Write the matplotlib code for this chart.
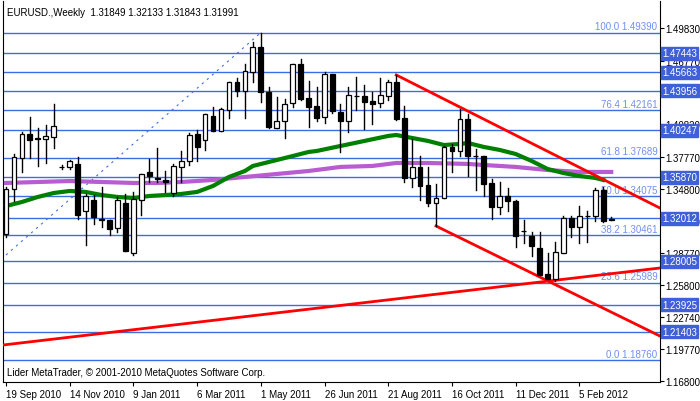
import matplotlib
matplotlib.use("Agg")
import matplotlib.pyplot as plt
from matplotlib.patches import Rectangle

# weekly EURUSD candles (open, high, low, close)
opens = [1.3054, 1.3476, 1.3766, 1.3990, 1.3953, 1.3944, 1.3962, 1.3682, 1.3682, 1.3710,
         1.3270, 1.3373, 1.3195, 1.3185, 1.3111, 1.3345, 1.2877, 1.3373, 1.3635, 1.3579,
         1.3560, 1.3438, 1.3682, 1.3738, 1.3990, 1.3934, 1.4159, 1.4018, 1.4215, 1.4477,
         1.4393, 1.4571, 1.4805, 1.4384, 1.4047, 1.4112, 1.4281, 1.4646, 1.4327, 1.4252,
         1.4150, 1.4552, 1.4196, 1.4112, 1.4346, 1.4346, 1.4299, 1.4281, 1.4346, 1.4477,
         1.4140, 1.3579, 1.3682, 1.3513, 1.3345, 1.3391, 1.3869, 1.3831, 1.4131, 1.3784,
         1.3784, 1.3532, 1.3307, 1.3410, 1.3363, 1.3082, 1.3036, 1.2923, 1.2680, 1.2633,
         1.2877, 1.3204, 1.3120, 1.3223, 1.3223, 1.3466, 1.31849]
highs = [1.3494, 1.3803, 1.4009, 1.4150, 1.4047, 1.4075, 1.4271, 1.3700, 1.3747, 1.3775,
         1.3429, 1.3419, 1.3494, 1.3185, 1.3401, 1.3429, 1.3448, 1.3616, 1.3756, 1.3859,
         1.3644, 1.3710, 1.3831, 1.4000, 1.4028, 1.4178, 1.4243, 1.4234, 1.4477, 1.4515,
         1.4646, 1.4852, 1.4939, 1.4430, 1.4337, 1.4318, 1.4646, 1.4692, 1.4486, 1.4430,
         1.4571, 1.4552, 1.4271, 1.4430, 1.4524, 1.4449, 1.4384, 1.4515, 1.4496, 1.4543,
         1.4252, 1.3944, 1.3784, 1.3682, 1.3522, 1.3878, 1.3897, 1.4224, 1.4178, 1.3850,
         1.3784, 1.3569, 1.3541, 1.3485, 1.3373, 1.3185, 1.3073, 1.3073, 1.2877, 1.2980,
         1.3223, 1.3223, 1.3316, 1.3270, 1.3485, 1.3494, 1.32133]
lows = [1.3026, 1.3363, 1.3635, 1.3766, 1.3691, 1.3719, 1.3859, 1.3663, 1.3663, 1.3195,
        1.2951, 1.3148, 1.3120, 1.3045, 1.3073, 1.2895, 1.2858, 1.3232, 1.3541, 1.3541,
        1.3448, 1.3410, 1.3541, 1.3700, 1.3738, 1.3841, 1.4018, 1.4018, 1.4140, 1.4346,
        1.4140, 1.4477, 1.4290, 1.4047, 1.4047, 1.3953, 1.4243, 1.4309, 1.4056, 1.4112,
        1.4093, 1.4187, 1.3822, 1.4009, 1.4215, 1.4037, 1.4084, 1.4243, 1.4309, 1.4121,
        1.3541, 1.3494, 1.3373, 1.3316, 1.3129, 1.3391, 1.3635, 1.3784, 1.3597, 1.3466,
        1.3410, 1.3195, 1.3242, 1.3270, 1.2933, 1.2970, 1.2848, 1.2671, 1.2633, 1.2614,
        1.2877, 1.3026, 1.2970, 1.2980, 1.3176, 1.3167, 1.31843]
closes = [1.3476, 1.3775, 1.3990, 1.3934, 1.3944, 1.3972, 1.4065, 1.3682, 1.3738, 1.3232,
          1.3410, 1.3214, 1.3185, 1.3101, 1.3373, 1.2895, 1.3382, 1.3616, 1.3597, 1.3569,
          1.3541, 1.3691, 1.3738, 1.3981, 1.3869, 1.4178, 1.4018, 1.4224, 1.4477, 1.4393,
          1.4580, 1.4805, 1.4384, 1.4056, 1.4112, 1.4271, 1.4646, 1.4318, 1.4243, 1.4140,
          1.4552, 1.4206, 1.4112, 1.4355, 1.4346, 1.4290, 1.4271, 1.4355, 1.4477, 1.4131,
          1.3579, 1.3682, 1.3504, 1.3345, 1.3391, 1.3869, 1.3831, 1.4131, 1.3784, 1.3784,
          1.3522, 1.3307, 1.3410, 1.3363, 1.3036, 1.3082, 1.2942, 1.2671, 1.2633, 1.2886,
          1.3204, 1.3120, 1.3223, 1.3223, 1.3466, 1.3176, 1.31991]

# moving averages (bar index, value)
green_idx = [0, 2, 4, 6, 8, 10, 12, 14, 16, 18, 20, 22, 24, 26, 28, 30, 31, 33, 36, 38,
             39, 42, 45, 48, 49, 51, 53, 55, 57, 58, 60, 62, 64, 66, 68, 70, 72, 74, 75]
green_val = [1.3316, 1.3354, 1.3401, 1.3438, 1.3457, 1.3448, 1.3419, 1.3401, 1.3391, 1.3410,
             1.3419, 1.3429, 1.3448, 1.3504, 1.3588, 1.3644, 1.3691, 1.3728, 1.3784, 1.3822,
             1.3831, 1.3878, 1.3925, 1.3972, 1.3981, 1.3953, 1.3925, 1.3887, 1.3897, 1.3906,
             1.3869, 1.3841, 1.3803, 1.3738, 1.3663, 1.3625, 1.3597, 1.3579, 1.3560]
purple_idx = [0, 8, 12, 16, 19, 22, 26, 30, 34, 38, 42, 46, 49, 53, 58, 60, 64, 68, 72, 76]
purple_val = [1.3532, 1.3550, 1.3541, 1.3532, 1.3532, 1.3541, 1.3560, 1.3588, 1.3616, 1.3644,
              1.3682, 1.3691, 1.3719, 1.3719, 1.3710, 1.3700, 1.3682, 1.3653, 1.3635, 1.3635]

# horizontal levels
fib_names = ["100.0", "76.4", "61.8", "50.0", "38.2", "23.6", "0.0"]
fib_prices = [1.49390, 1.42161, 1.37689, 1.34075, 1.30461, 1.25989, 1.18760]
box_levels = [1.47443, 1.45663, 1.43956, 1.40247, 1.35870, 1.32012, 1.28005, 1.23925, 1.21403]

# trend lines ((bar, price), (bar, price))
trend_lines = [((-0.4, 1.2015), (82.1, 1.2736)),
               ((49, 1.4543), (82.1, 1.3298)),
               ((54, 1.3129), (82.1, 1.2100))]
fib_diag = ((0, 1.2858), (32, 1.4939))

price_ticks = [1.49830, 1.46770, 1.43770, 1.40820, 1.37770, 1.34800, 1.31740,
               1.28770, 1.25800, 1.22740, 1.19770, 1.16800]
date_pos = [0, 8, 16, 24, 32, 40, 48, 56, 64, 72]
date_labels = ["19 Sep 2010", "14 Nov 2010", "9 Jan 2011", "6 Mar 2011", "1 May 2011",
               "26 Jun 2011", "21 Aug 2011", "16 Oct 2011", "11 Dec 2011", "5 Feb 2012"]

line_blue = "#3c6ee0"
fib_blue = "#7090f0"
box_blue = "#3f60d8"

plt.rcParams['font.family'] = ['Liberation Sans', 'DejaVu Sans']
fig = plt.figure(figsize=(7.0, 4.02), dpi=100)
ax = fig.add_axes([3 / 700, 19 / 402, 657 / 700, 381 / 402])
ax.set_xlim(-0.375, 82.125)
ax.set_ylim(1.1669, 1.5235)

for p in fib_prices + box_levels:
    ax.axhline(p, color=line_blue, lw=1, zorder=1)

for nm, p in zip(fib_names, fib_prices):
    ax.text(81.8, p + 0.0012, f"{nm} {p:.5f}", color=fib_blue, fontsize=7,
            ha="right", va="bottom", zorder=2)

ax.plot([fib_diag[0][0], fib_diag[1][0]], [fib_diag[0][1], fib_diag[1][1]],
        color=line_blue, lw=0.8, ls=(0, (2, 4)), zorder=2)

ax.plot(purple_idx, purple_val, color="#b85cd2", lw=3, zorder=3)
ax.plot(green_idx, green_val, color="#008000", lw=3, zorder=3)

for (x0, y0), (x1, y1) in trend_lines:
    ax.plot([x0, x1], [y0, y1], color="#ff0000", lw=2, zorder=4)

w = 0.6
for i, (o, h, l, c) in enumerate(zip(opens, highs, lows, closes)):
    ax.plot([i, i], [l, h], color="black", lw=1, zorder=5)
    bottom = min(o, c)
    height = max(abs(c - o), 0.0003)
    face = "white" if c >= o else "black"
    ax.add_patch(Rectangle((i - w / 2, bottom), w, height, facecolor=face,
                           edgecolor="black", lw=0.9, zorder=6))

ax.yaxis.tick_right()
ax.set_yticks(price_ticks)
ax.set_yticklabels([f"{t:.5f}" for t in price_ticks], fontsize=7)
ax.set_xticks(date_pos)
ax.set_xticklabels(date_labels, fontsize=7, ha="left")
ax.tick_params(axis="both", length=3, width=0.8, pad=2)
ax.tick_params(axis="y", pad=1)
for s in ["top"]:
    ax.spines[s].set_visible(False)

for p in box_levels:
    ax.annotate(f"{p:.5f}", xy=(1.003, p), xycoords=("axes fraction", "data"),
                ha="left", va="center", fontsize=7, color="white", zorder=10,
                annotation_clip=False,
                bbox=dict(boxstyle="square,pad=0.15", fc=box_blue, ec=box_blue))

ax.text(0.006, 0.985, "EURUSD.,Weekly  1.31849 1.32133 1.31843 1.31991",
        transform=ax.transAxes, fontsize=7, va="top", ha="left")
ax.text(0.006, 0.012, "Lider MetaTrader, \u00a9 2001-2010 MetaQuotes Software Corp.",
        transform=ax.transAxes, fontsize=7, va="bottom", ha="left")

fig.savefig("out.png", dpi=100)
